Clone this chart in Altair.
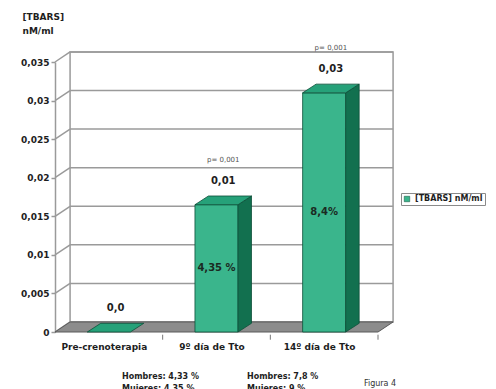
import altair as alt
import pandas as pd

# ---------------- data ----------------
categorias = ["Pre-crenoterapia", "9º día de Tto", "14º día de Tto"]
valores = [0.0, 0.0165, 0.031]
etiquetas_valor = ["0,0", "0,01", "0,03"]
etiquetas_p = ["", "p= 0,001", "p= 0,001"]
etiquetas_dentro = ["", "4,35 %", "8,4%"]
y_ticks = [0, 0.005, 0.01, 0.015, 0.02, 0.025, 0.03, 0.035]
serie = "[TBARS] nM/ml"
titulo_y = ["[TBARS]", "nM/ml"]
nota_1 = "Hombres: 4,33 %\nMujeres:   4,35 %"
nota_2 = "Hombres: 7,8 %\nMujeres:   9 %"
figura = "Figura 4"

# ---------------- style ----------------
YMAX = 0.035
N = len(categorias)
FDX, FDY = 0.14, 0.0013     # depth of walls / floor (data units)
BDX, BDY = 0.125, 0.00113   # depth of bars
BW = 0.4                    # bar width (category units)
FONT = "DejaVu Sans"
GRAY = "#9a9a9a"
GREEN_FRONT = "#3ab58c"
GREEN_TOP = "#26a179"
GREEN_SIDE = "#12704f"
GREEN_EDGE = "#0d4f38"
TXT = "#1e1e1e"

xs = alt.Scale(domain=[0, N], nice=False, zero=False)
ys = alt.Scale(domain=[0, YMAX], nice=False, zero=False)

# ---------------- derived tables ----------------
wall = pd.DataFrame({"x": [FDX], "x2": [N + FDX], "y": [FDY], "y2": [YMAX + FDY]})
grid = pd.DataFrame({"x": FDX, "x2": N + FDX, "y": [v + FDY for v in y_ticks]})
diag = pd.DataFrame({"x": 0.0, "x2": FDX, "y": y_ticks, "y2": [v + FDY for v in y_ticks]})
floor = pd.DataFrame({"y": [0.0, FDY], "x": [0.0, FDX], "x2": [N, N + FDX]})
cat_ticks = pd.DataFrame({"x": list(range(1, N + 1)), "y": -0.00035, "y2": -0.001})

bars = pd.DataFrame({
    "i": list(range(N)),
    "cat": categorias,
    "v": valores,
    "lv": etiquetas_valor,
    "lp": etiquetas_p,
    "ld": etiquetas_dentro,
})
bars["c"] = bars["i"] + 0.5
bars["l"] = bars["c"] - BW / 2
bars["r"] = bars["c"] + BW / 2
bars["serie"] = serie
bars["vt"] = bars["v"] + BDY
bars["ct"] = bars["c"] + BDX / 2
bars["vm"] = bars["v"] / 2

front = bars[bars["v"] > 0]

side_rows, top_rows = [], []
for _, b in bars.iterrows():
    if b["v"] > 0:
        side_rows.append({"i": b["i"], "x": b["r"], "y": b["v"], "y2": 0.0})
        side_rows.append({"i": b["i"], "x": b["r"] + BDX, "y": b["v"] + BDY, "y2": BDY})
    top_rows.append({"i": b["i"], "y": b["v"], "x": b["l"], "x2": b["r"]})
    top_rows.append({"i": b["i"], "y": b["v"] + BDY, "x": b["l"] + BDX, "x2": b["r"] + BDX})
side = pd.DataFrame(side_rows)
top = pd.DataFrame(top_rows)

# ---------------- axes (same object in every layer so they merge) ----------------
label_expr_x = " : ".join(
    [f"datum.value < {i + 1} ? '{c}'" for i, c in enumerate(categorias[:-1])]
) + f" : '{categorias[-1]}'"

x_axis = alt.Axis(
    values=[i + 0.5 for i in range(N)], labelExpr=label_expr_x, title=None,
    domain=False, ticks=False, grid=False, labelPadding=10, labelOffset=-5,
    labelFont=FONT, labelFontSize=9, labelFontWeight="bold", labelColor=TXT,
    labelFlush=False, labelOverlap=False, labelAngle=0,
)
y_axis = alt.Axis(
    values=y_ticks, format="~g", labelExpr="replace(datum.label, '.', ',')",
    title=titulo_y, titleAngle=0, titleAlign="left", titleBaseline="top",
    titleX=-33, titleY=-50, titleFont=FONT, titleFontSize=9, titleFontWeight="bold",
    titleLineHeight=14, titleColor=TXT,
    domainColor=GRAY, domainWidth=1.5, tickColor=GRAY, tickWidth=1.5, tickSize=4,
    grid=False, labelFont=FONT, labelFontSize=9, labelFontWeight="bold",
    labelColor=TXT, labelPadding=2,
)


def X(f):
    return alt.X(f, scale=xs, axis=x_axis)


def Y(f, **kw):
    return alt.Y(f, scale=ys, axis=y_axis, **kw)


# ---------------- layers ----------------
wall_l = alt.Chart(wall).mark_rect(fill="white", stroke=GRAY, strokeWidth=1.5).encode(
    x=X("x:Q"), x2="x2", y=Y("y:Q"), y2="y2",
)
grid_l = alt.Chart(grid).mark_rule(color=GRAY, strokeWidth=1.5).encode(
    x=X("x:Q"), x2="x2", y=Y("y:Q"),
)
diag_l = alt.Chart(diag).mark_rule(color=GRAY, strokeWidth=1.5).encode(
    x=X("x:Q"), x2="x2", y=Y("y:Q"), y2="y2",
)
floor_l = alt.Chart(floor).mark_area(
    orient="horizontal", fill="#8c8c8c", stroke="#5a5a5a", strokeWidth=1
).encode(
    y=Y("y:Q", stack=None), x=X("x:Q"), x2="x2",
)
ticks_l = alt.Chart(cat_ticks).mark_rule(color="#777", strokeWidth=1).encode(
    x=X("x:Q"), y=Y("y:Q"), y2="y2",
)
front_l = alt.Chart(front).mark_rect(stroke=GREEN_EDGE, strokeWidth=0.8).encode(
    x=X("l:Q"), x2="r",
    y=Y("v:Q"), y2=alt.datum(0),
    color=alt.Color(
        "serie:N",
        scale=alt.Scale(domain=[serie], range=[GREEN_FRONT]),
        legend=alt.Legend(
            orient="none", legendX=346, legendY=131, title=None,
            strokeColor="#8a8a8a", fillColor="white", padding=2,
            symbolType="square", symbolSize=30,
            symbolStrokeColor=GREEN_EDGE, symbolStrokeWidth=0.5,
            labelFont=FONT, labelFontSize=8, labelFontWeight="bold",
            labelColor=TXT,
        ),
    ),
)
side_l = alt.Chart(side).mark_area(
    fill=GREEN_SIDE, stroke=GREEN_EDGE, strokeWidth=0.8
).encode(
    x=X("x:Q"), y=Y("y:Q", stack=None), y2="y2", detail="i:N",
)
top_l = alt.Chart(top).mark_area(
    orient="horizontal", fill=GREEN_TOP, stroke=GREEN_EDGE, strokeWidth=0.8
).encode(
    y=Y("y:Q", stack=None), x=X("x:Q"), x2="x2", detail="i:N",
)

txt_val = alt.Chart(bars).mark_text(
    font=FONT, fontSize=10, fontWeight="bold", color=TXT, dy=-15
).encode(x=X("ct:Q"), y=Y("vt:Q"), text="lv:N")
txt_p = alt.Chart(bars).mark_text(
    font=FONT, fontSize=7, color="#555", dy=-36
).encode(x=X("ct:Q"), y=Y("vt:Q"), text="lp:N")
txt_in = alt.Chart(front).mark_text(
    font=FONT, fontSize=10, fontWeight="bold", color="#1a2a22"
).encode(x=X("c:Q"), y=Y("vm:Q"), text="ld:N")

note_style = dict(font=FONT, fontSize=8, fontWeight="bold", color=TXT,
                  align="left", baseline="top", lineBreak="\n", lineHeight=12)
note1 = alt.Chart(pd.DataFrame({"t": [nota_1]})).mark_text(**note_style).encode(
    x=alt.value(67), y=alt.value(311), text="t:N")
note2 = alt.Chart(pd.DataFrame({"t": [nota_2]})).mark_text(**note_style).encode(
    x=alt.value(192), y=alt.value(311), text="t:N")
fig_l = alt.Chart(pd.DataFrame({"t": [figura]})).mark_text(
    font=FONT, fontSize=8, color="#333", align="center", baseline="middle"
).encode(x=alt.value(325), y=alt.value(322), text="t:N")

chart = alt.layer(
    wall_l, grid_l, diag_l, floor_l, ticks_l, front_l, side_l, top_l,
    txt_val, txt_p, txt_in, note1, note2, fig_l,
).properties(
    width=323, height=270,
    autosize=alt.AutoSizeParams(type="none"),
    padding={"left": 55, "top": 62, "right": 118, "bottom": 57},
    background="white",
).configure_view(stroke=None)

chart.save("out.html", embed_options={"renderer": "svg", "actions": False})
